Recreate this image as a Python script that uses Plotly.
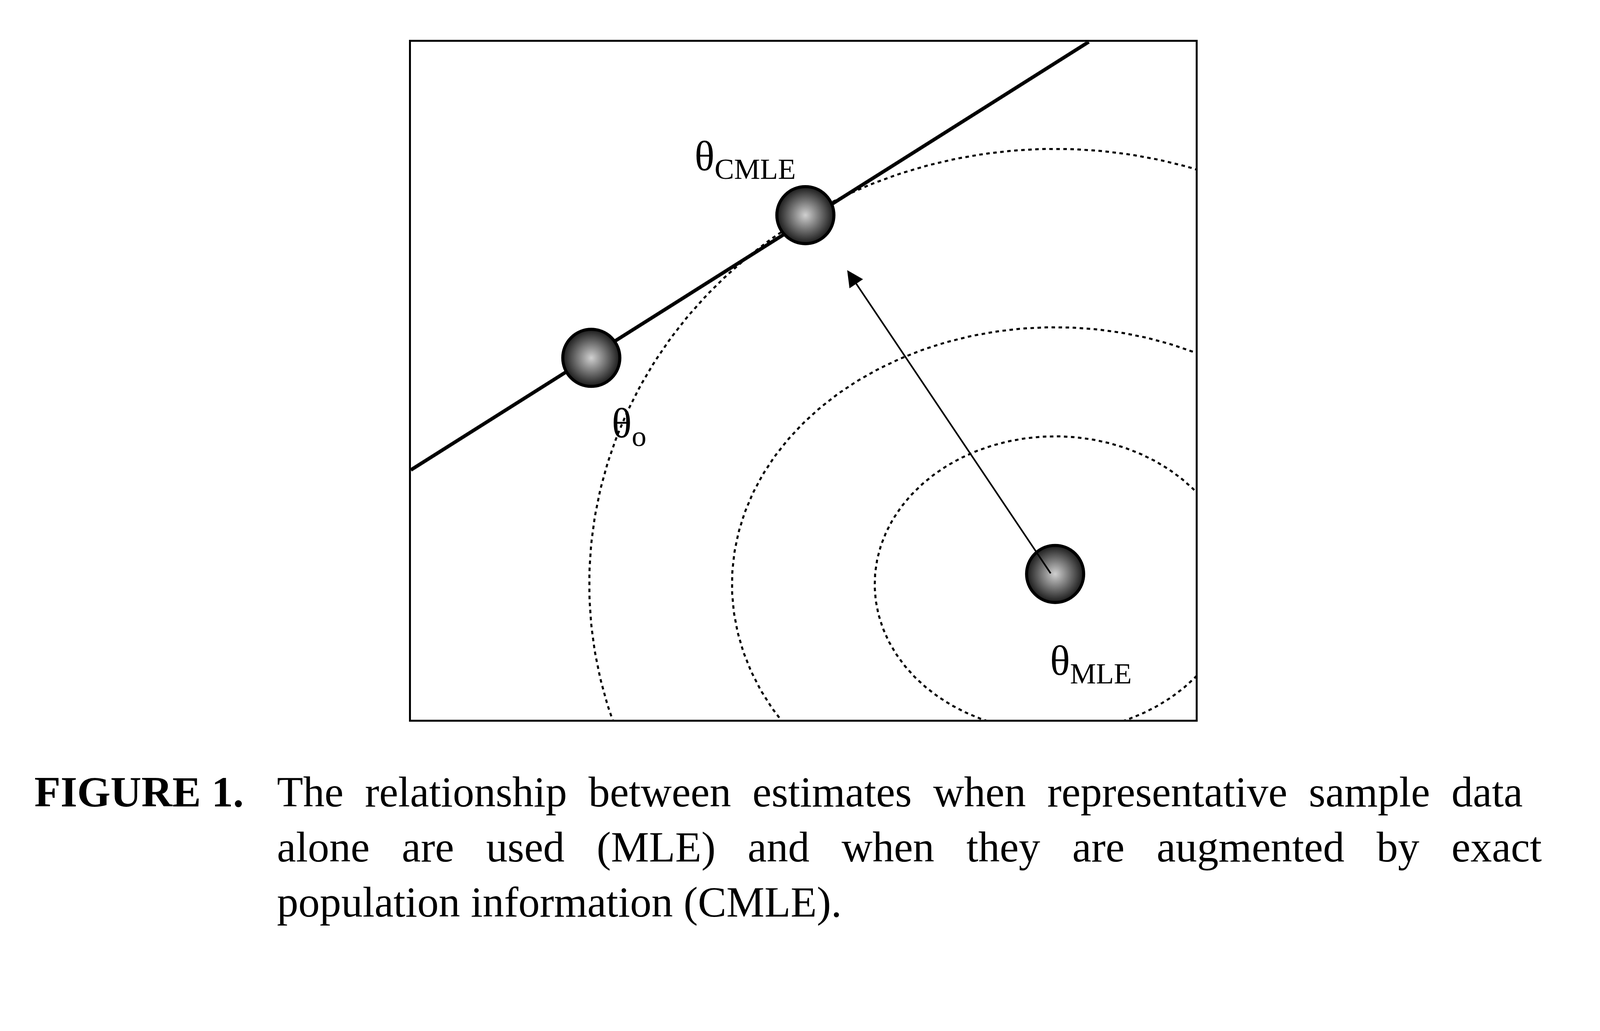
import numpy as np
import plotly.graph_objects as go

# coordinates inside the frame (frame is 770 wide, 665 high, origin bottom-left)
line_x = [0, 665]
line_y = [245, 665]

point_names = ["θ<sub>o</sub>", "θ<sub>CMLE</sub>", "θ<sub>MLE</sub>"]
point_x = [177, 387, 632]
point_y = [355, 495, 143]
label_x = [214, 328, 667]
label_y = [288, 550, 55]

ell_cx = [632, 632, 632]
ell_cy = [133, 133, 133]
ell_rx = [177, 317, 457]
ell_ry = [145, 252, 427]

arrow_from = (628, 143)
arrow_to = (428, 441)

caption_head = "FIGURE 1."
caption_lines = [
    "The&nbsp; relationship&nbsp; between&nbsp; estimates&nbsp; when&nbsp; representative&nbsp; sample&nbsp; data",
    "alone&nbsp;&nbsp; are&nbsp;&nbsp; used&nbsp;&nbsp; (MLE)&nbsp;&nbsp; and&nbsp;&nbsp; when&nbsp;&nbsp; they&nbsp;&nbsp; are&nbsp;&nbsp; augmented&nbsp;&nbsp; by&nbsp;&nbsp; exact",
    "population information (CMLE).",
]

# page seems to render at ~1.1 device pixel ratio
W, H = int(4479 / 1.1), int(2640 / 1.1)
S = W / 1560.0
serif = "Liberation Serif, Times New Roman, serif"

fig = go.Figure()

t = np.linspace(0, 2 * np.pi, 400)
for cx, cy, rx, ry in zip(ell_cx, ell_cy, ell_rx, ell_ry):
    fig.add_trace(go.Scatter(x=cx + rx * np.cos(t), y=cy + ry * np.sin(t), mode="lines",
                             line=dict(color="black", width=2 * S, dash="%dpx,%dpx" % (3.5 * S, 3.5 * S)),
                             hoverinfo="skip"))

fig.add_trace(go.Scatter(x=line_x, y=line_y, mode="lines",
                         line=dict(color="black", width=3.5 * S), hoverinfo="skip"))

fig.add_trace(go.Scatter(x=point_x, y=point_y, mode="markers",
                         marker=dict(size=56 * S, color="#1a1a1a",
                                     gradient=dict(type="radial", color="#d0d0d0"),
                                     line=dict(color="#000", width=3 * S)),
                         hoverinfo="skip"))

for name, lx, ly in zip(point_names, label_x, label_y):
    fig.add_annotation(x=lx, y=ly, text=name, showarrow=False,
                       font=dict(family=serif, size=41 * S, color="black"))

fig.add_annotation(x=arrow_to[0], y=arrow_to[1], ax=arrow_from[0], ay=arrow_from[1],
                   axref="x", ayref="y", xref="x", yref="y", text="",
                   showarrow=True, arrowhead=2, arrowsize=2, arrowwidth=1.6 * S, arrowcolor="black")

cap_y0 = 798
fig.add_annotation(x=30 / 1560, y=1 - cap_y0 / 919.5, xref="paper", yref="paper", xanchor="left",
                   text="<b>" + caption_head + "</b>", showarrow=False,
                   font=dict(family=serif, size=42 * S, color="black"))
for i, ln in enumerate(caption_lines):
    fig.add_annotation(x=268 / 1560, y=1 - (cap_y0 + 54 * i) / 919.5, xref="paper", yref="paper",
                       xanchor="left", text=ln, showarrow=False,
                       font=dict(family=serif, size=42 * S, color="black"))

ax_common = dict(showgrid=False, zeroline=False, showticklabels=False, ticks="",
                 showline=True, linecolor="black", linewidth=2 * S, mirror=True)
fig.update_layout(
    width=W, height=H, margin=dict(l=0, r=0, t=0, b=0),
    plot_bgcolor="white", paper_bgcolor="white", showlegend=False,
    xaxis=dict(range=[0, 770], domain=[400 / 1560, 1170 / 1560], **ax_common),
    yaxis=dict(range=[0, 665], domain=[1 - 703 / 919.5, 1 - 38 / 919.5], **ax_common),
)

fig.write_html("out.html")
